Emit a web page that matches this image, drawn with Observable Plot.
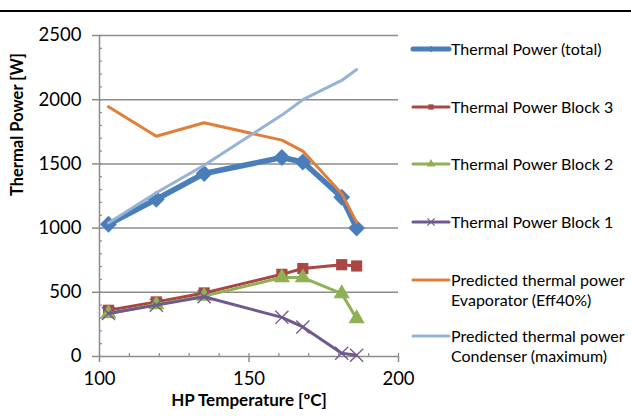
<!DOCTYPE html>
<html>
<head>
<meta charset="utf-8">
<script src="https://cdn.jsdelivr.net/npm/d3@7"></script>
<script src="https://cdn.jsdelivr.net/npm/@observablehq/plot@0.6"></script>
<style>
  html, body { margin: 0; padding: 0; background: #fff; }
  #wrap { position: relative; width: 631px; height: 416px; overflow: hidden; font-family: Lato, "Open Sans", sans-serif; }
  #topline { position: absolute; left: 0; top: 10px; width: 631px; height: 2px; background: #000; }
  #legend { position: absolute; left: 0; top: 0; pointer-events: none; }
</style>
</head>
<body>
<div id="wrap"><div id="topline"></div></div>
<script>
// ---- data ----
const temperatures = [103, 119, 135, 161, 168, 181, 186];
const thermalTotal = [1030, 1225, 1425, 1550, 1515, 1240, 1000];
const thermalBlock3 = [360, 425, 495, 640, 685, 715, 705];
const thermalBlock2 = [335, 405, 470, 615, 615, 490, 295];
const thermalBlock1 = [335, 400, 465, 305, 230, 25, 10];
const predictedEvaporator = [1945, 1715, 1820, 1685, 1600, 1270, 1045];
const predictedCondenser = [1040, 1275, 1490, 1880, 2000, 2150, 2235];

const seriesNames = [
  "Thermal Power (total)",
  "Thermal Power Block 3",
  "Thermal Power Block 2",
  "Thermal Power Block 1",
  "Predicted thermal power Evaporator (Eff40%)",
  "Predicted thermal power Condenser (maximum)"
];
const seriesValues = [thermalTotal, thermalBlock3, thermalBlock2, thermalBlock1, predictedEvaporator, predictedCondenser];
const xTicks = [100, 150, 200];
const yTicks = [0, 500, 1000, 1500, 2000, 2500];
const xAxisTitle = "HP Temperature [ºC]";
const yAxisTitle = "Thermal Power [W]";

// ---- styles ----
const styles = [
  {color: "#4a7ebb", width: 5.5, symbol: "diamond2", r: 7.6, legendR: 3, fill: true},
  {color: "#aa4643", width: 3, symbol: "square", r: 6.3, legendR: 3, fill: true},
  {color: "#8fb153", width: 3, symbol: "triangle", r: 6, legendR: 3.2, fill: true},
  {color: "#71588f", width: 3, symbol: "times", r: 6, legendR: 3.4, fill: false},
  {color: "#e07e3a", width: 3, symbol: null},
  {color: "#95b3d7", width: 3, symbol: null}
];

const table = [];
seriesNames.forEach((name, i) => {
  temperatures.forEach((t, j) => table.push({series: name, idx: i, x: t, y: seriesValues[i][j]}));
});

const grid = "#8c8c8c";
const tickFont = 18.5;
const marks = [
  Plot.gridY(yTicks.filter(d => d > 0), {stroke: grid, strokeOpacity: 1, strokeWidth: 1.5}),
  Plot.axisY(d3.range(0, 2501, 100), {tickSize: -3, text: null, stroke: grid, strokeWidth: 1.2, label: null}),
  Plot.axisY(yTicks, {tickSize: 7, tickPadding: 11, tickFormat: d => String(d), stroke: grid, strokeWidth: 1.5, fill: "#000", fontSize: tickFont, label: null}),
  Plot.axisX(d3.range(100, 201, 10), {tickSize: -3, text: null, stroke: grid, strokeWidth: 1.2, label: null}),
  Plot.axisX(xTicks, {tickSize: 6, tickPadding: 9, tickFormat: d => String(d), stroke: grid, strokeWidth: 1.5, fill: "#000", fontSize: tickFont, label: null}),
  Plot.ruleX([100], {stroke: grid, strokeWidth: 1.5}),
  Plot.ruleY([0], {stroke: grid, strokeWidth: 1.5}),
  Plot.text([xAxisTitle], {frameAnchor: "bottom", dy: 49, fontSize: 17, fontWeight: "bold", fill: "#000"}),
  Plot.text([yAxisTitle], {frameAnchor: "left", dx: -82, rotate: -90, fontSize: 16.5, fontWeight: "bold", fill: "#000"})
];
seriesNames.forEach((name, i) => {
  const s = styles[i];
  const data = table.filter(d => d.idx === i);
  marks.push(Plot.line(data, {x: "x", y: "y", stroke: s.color, strokeWidth: s.width, strokeLinejoin: "round"}));
  if (s.symbol) {
    marks.push(Plot.dot(data, s.fill
      ? {x: "x", y: "y", symbol: () => s.symbol, r: s.r, fill: s.color, stroke: "none"}
      : {x: "x", y: "y", symbol: () => s.symbol, r: s.r, stroke: s.color, strokeWidth: 1.3}));
  }
});

const chart = Plot.plot({
  width: 631,
  height: 416,
  marginLeft: 99,
  marginRight: 233,
  marginTop: 35,
  marginBottom: 60,
  style: {fontFamily: "Lato, 'Open Sans', sans-serif", fontSize: "16px", color: "#000", background: "transparent"},
  x: {domain: [100, 200]},
  y: {domain: [0, 2500]},
  symbol: {type: "identity"},
  marks
});
const wrap = document.getElementById("wrap");
wrap.insertBefore(chart, wrap.firstChild);

// ---- legend (right side) ----
const legendRows = [
  {lines: ["Thermal Power (total)"], y: 49},
  {lines: ["Thermal Power Block 3"], y: 107},
  {lines: ["Thermal Power Block 2"], y: 164},
  {lines: ["Thermal Power Block 1"], y: 222},
  {lines: ["Predicted thermal power", "Evaporator (Eff40%)"], y: 280},
  {lines: ["Predicted thermal power", "Condenser (maximum)"], y: 336}
];
const symbolMap = {diamond2: d3.symbolDiamond2, square: d3.symbolSquare, triangle: d3.symbolTriangle, times: d3.symbolTimes};
const lsvg = d3.select("#wrap").append("svg").attr("id", "legend").attr("width", 631).attr("height", 416);
legendRows.forEach((row, i) => {
  const s = styles[i];
  const g = lsvg.append("g").attr("transform", `translate(0,${row.y})`);
  g.append("line").attr("x1", 413).attr("x2", 449).attr("y1", 0).attr("y2", 0)
    .attr("stroke", s.color).attr("stroke-width", i === 0 ? 5 : 3).attr("stroke-linecap", "round");
  if (s.symbol) {
    const p = d3.symbol(symbolMap[s.symbol], Math.PI * s.legendR * s.legendR)();
    g.append("path").attr("d", p).attr("transform", "translate(431,0)")
      .attr("fill", s.fill ? s.color : "none").attr("stroke", s.fill ? "none" : s.color).attr("stroke-width", 1.2);
  }
  row.lines.forEach((t, k) => {
    g.append("text").attr("x", 451).attr("y", k * 20).attr("dy", "0.35em")
      .attr("font-family", "Lato, 'Open Sans', sans-serif").attr("font-size", 16).attr("fill", "#000").text(t);
  });
});
</script>
</body>
</html>
